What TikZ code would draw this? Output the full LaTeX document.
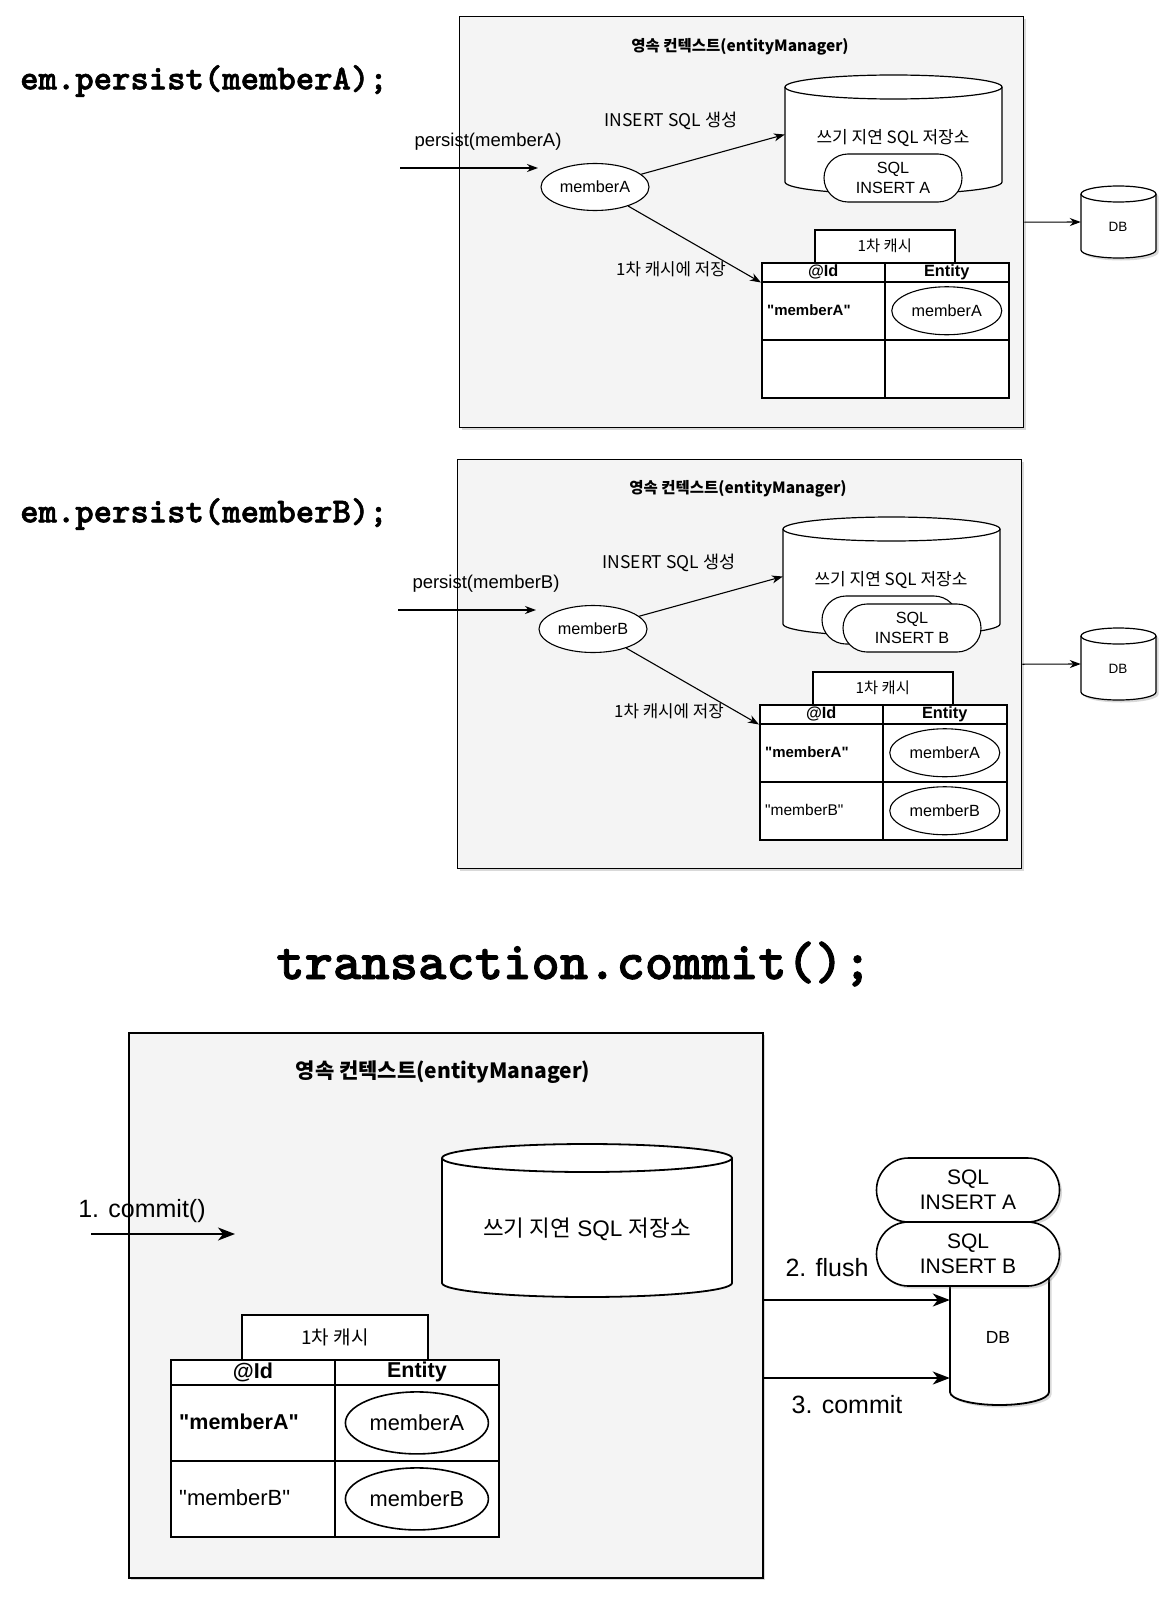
\documentclass[tikz,border=0pt]{standalone}
\usepackage{fontspec}
\setmainfont{Liberation Sans}
\newfontfamily\krfont{Noto Sans CJK KR}
\newfontfamily\codefont{lmmonolt10-bold.otf}[FakeBold=1.6]
\usetikzlibrary{arrows.meta,shapes.misc,shapes.geometric,shadows,fit}

\definecolor{boxgray}{HTML}{F4F4F4}
\newcommand\fsz[2]{\fontsize{#1pt}{#2pt}\selectfont}
\newcommand\qq[1]{\textquotedbl#1\textquotedbl}

% cylinder: [body options]{name}{left}{right}{top centre y}{bottom centre y}{end radius}
\newcommand\drum[7][]{%
  \path[draw, fill=white, drumline, #1] (#3,-#5) -- (#3,-#6)
    arc[start angle=180, end angle=360, x radius={(#4-#3)/2}, y radius=#7]
    -- (#4,-#5)
    arc[start angle=0, end angle=180, x radius={(#4-#3)/2}, y radius=#7] -- cycle;
  \draw[drumline] (#3,-#5)
    arc[start angle=180, end angle=360, x radius={(#4-#3)/2}, y radius=#7];
  \node[fit={(#3,-#5+#7) (#4,-#6-#7)}, inner sep=0pt] (#2) {};
}

\tikzset{
  drumline/.style={line width=1.2pt},
  shade/.style={drop shadow={shadow xshift=2.5pt, shadow yshift=-2.5pt, opacity=0.3}},
  ctxbox/.style={draw, line width=1.4pt, fill=boxgray, shade, anchor=north west, inner sep=0pt},
  obj/.style={ellipse, draw, line width=1.1pt, fill=white, inner sep=0pt},
  pill/.style={rounded rectangle, draw, line width=1.1pt, fill=white, align=center, inner sep=0pt},
  cell/.style={draw, line width=1.5pt, fill=white, anchor=north west, inner sep=0pt},
  flow/.style={-{Stealth[length=11pt, width=8pt, inset=3.5pt]}, line width=1.1pt},
  bigflow/.style={-{Stealth[length=17pt, width=13pt, inset=5pt]}, line width=1.6pt},
  code/.style={font=\codefont\fsz{35}{38}, inner sep=0pt, anchor=west},
  lbl/.style={font=\fsz{18.5}{22}},
  krlbl/.style={font=\krfont\fsz{17}{20}},
  ttl/.style={font=\krfont\bfseries\fsz{15.5}{18}},
  small/.style={font=\fsz{16.2}{19.5}},
  hdr/.style={font=\bfseries\fsz{16.3}{19}},
  key/.style={anchor=west, inner sep=0pt},
}

\begin{document}
\begin{tikzpicture}[x=1pt, y=1pt]
\useasboundingbox (0,0) rectangle (1168,-1616);

% ---------------- persist(memberA) ----------------
\node[code] (code1) at (20,-81) {em.persist(memberA);};

\node[ctxbox, minimum width=564pt, minimum height=411pt] (ctx1) at (459,-16) {};
\node[ttl] (ttl1) at (740,-47) {영속 컨텍스트(entityManager)};

\drum{wb1}{785}{1002}{87}{182}{12}
\node[krlbl] (wbl1) at (893,-138) {쓰기 지연 SQL 저장소};
\node[pill, minimum width=138pt, minimum height=48pt, small] (sqa1) at (893,-178) {SQL\\INSERT A};

\node[obj, minimum width=108pt, minimum height=47pt, small] (ma1) at (595,-187) {memberA};
\node[lbl] (pl1) at (488,-142) {persist(memberA)};
\coordinate (pa0) at (400,-168);
\coordinate (pa1) at (538,-168);
\draw[flow] (pa0) -- (pa1);

\node[krlbl, font=\krfont\fsz{17.5}{20}] (gen1) at (671,-121) {INSERT SQL 생성};
\draw[flow] (ma1) -- (wb1.west);

\node[cell, minimum width=140pt, minimum height=33pt] (tab1) at (814,-229) {};
\node[krlbl, font=\krfont\fsz{15.3}{18}] at (tab1.center) {1차 캐시};
\node[cell, minimum width=123pt, minimum height=19pt] (h1id) at (761,-262) {};
\node[cell, minimum width=124pt, minimum height=19pt] (h1en) at (884,-262) {};
\node[cell, minimum width=123pt, minimum height=58pt] (r1a) at (761,-281) {};
\node[cell, minimum width=124pt, minimum height=58pt] (r1b) at (884,-281) {};
\node[cell, minimum width=123pt, minimum height=58pt] (r2a) at (761,-339) {};
\node[cell, minimum width=124pt, minimum height=58pt] (r2b) at (884,-339) {};
\node[hdr] at (h1id.center) {@Id};
\node[hdr] at (h1en.center) {Entity};
\node[key, font=\bfseries\fsz{15}{18}] at (767,-310) {\qq{memberA}};
\node[obj, minimum width=110pt, minimum height=48pt, small] (ea1) at (r1b.center) {memberA};

\node[krlbl, font=\krfont\fsz{16.8}{20}] (sv1) at (671,-269) {1차 캐시에 저장};
\draw[flow] (ma1) -- (h1id.south west);

\drum[shade]{db1}{1081}{1156}{194}{250}{8}
\node[font=\fsz{13.5}{16}] at (1118,-227) {DB};
\draw[flow] (ctx1.east) -- (db1.west);

% ---------------- persist(memberB) ----------------
\node[code] (code2) at (20,-514) {em.persist(memberB);};

\begin{scope}[shift={(-2,-442)}]
\node[ctxbox, minimum width=564pt, minimum height=409pt] (ctx2) at (459,-17) {};
\node[ttl] (ttl2) at (740,-47) {영속 컨텍스트(entityManager)};

\drum{wb2}{785}{1002}{87}{182}{12}
\node[krlbl] (wbl2) at (893,-138) {쓰기 지연 SQL 저장소};
\node[pill, minimum width=136pt, minimum height=48pt] (sqa2) at (892,-178) {};
\node[pill, minimum width=138pt, minimum height=48pt, small] (sqb2) at (914,-186) {SQL\\INSERT B};

\node[obj, minimum width=108pt, minimum height=47pt, small] (mb2) at (595,-187) {memberB};
\node[lbl] (pl2) at (488,-142) {persist(memberB)};
\coordinate (pb0) at (400,-168);
\coordinate (pb1) at (538,-168);
\draw[flow] (pb0) -- (pb1);

\node[krlbl, font=\krfont\fsz{17.5}{20}] (gen2) at (671,-121) {INSERT SQL 생성};
\draw[flow] (mb2) -- (wb2.west);

\node[cell, minimum width=140pt, minimum height=33pt] (tab2) at (814,-229) {};
\node[krlbl, font=\krfont\fsz{15.3}{18}] at (tab2.center) {1차 캐시};
\node[cell, minimum width=123pt, minimum height=19pt] (h2id) at (761,-262) {};
\node[cell, minimum width=124pt, minimum height=19pt] (h2en) at (884,-262) {};
\node[cell, minimum width=123pt, minimum height=58pt] (s1a) at (761,-281) {};
\node[cell, minimum width=124pt, minimum height=58pt] (s1b) at (884,-281) {};
\node[cell, minimum width=123pt, minimum height=58pt] (s2a) at (761,-339) {};
\node[cell, minimum width=124pt, minimum height=58pt] (s2b) at (884,-339) {};
\node[hdr] at (h2id.center) {@Id};
\node[hdr] at (h2en.center) {Entity};
\node[key, font=\bfseries\fsz{15}{18}] at (767,-310) {\qq{memberA}};
\node[key, font=\fsz{15.5}{18}] at (767,-368) {\qq{memberB}};
\node[obj, minimum width=110pt, minimum height=48pt, small] (ea2) at (s1b.center) {memberA};
\node[obj, minimum width=110pt, minimum height=48pt, small] (eb2) at (s2b.center) {memberB};

\node[krlbl, font=\krfont\fsz{16.8}{20}] (sv2) at (671,-269) {1차 캐시에 저장};
\draw[flow] (mb2) -- (h2id.south west);

\drum[shade]{db2}{1083}{1158}{194}{250}{8}
\node[font=\fsz{13.5}{16}] at (1120,-227) {DB};
\draw[flow] (ctx2.east) -- (db2.west);
\end{scope}

% ---------------- transaction.commit() ----------------
\node[code, font=\codefont\fsz{54}{58}, anchor=center] (code3) at (574,-964) {transaction.commit();};

\begin{scope}[drumline/.style={line width=1.8pt}]
\node[ctxbox, line width=1.8pt, minimum width=634pt, minimum height=545pt] (ctx3) at (128,-1032) {};
\node[font=\krfont\bfseries\fsz{21}{25}] (ttl3) at (443,-1072) {영속 컨텍스트(entityManager)};

\drum{wb3}{442}{732}{1158}{1283}{14}
\node[font=\fsz{22.5}{26}] (wbl3) at (587,-1229) {{\krfont 쓰기 지연} SQL {\krfont 저장소}};

\node[font=\fsz{25}{29}] (cl3) at (142,-1211) {1. commit()};
\coordinate (cm0) at (91,-1234);
\coordinate (cm1) at (235,-1234);
\draw[bigflow] (cm0) -- (cm1);

\node[cell, line width=1.8pt, minimum width=186pt, minimum height=45pt] (tab3) at (241,-1314) {};
\node[font=\krfont\fsz{19}{22}] at (tab3.center) {1차 캐시};
\node[cell, line width=1.8pt, minimum width=164pt, minimum height=25pt] (h3id) at (170,-1359) {};
\node[cell, line width=1.8pt, minimum width=164pt, minimum height=25pt] (h3en) at (334,-1359) {};
\node[cell, line width=1.8pt, minimum width=164pt, minimum height=76pt] (u1a) at (170,-1384) {};
\node[cell, line width=1.8pt, minimum width=164pt, minimum height=76pt] (u1b) at (334,-1384) {};
\node[cell, line width=1.8pt, minimum width=164pt, minimum height=76pt] (u2a) at (170,-1460) {};
\node[cell, line width=1.8pt, minimum width=164pt, minimum height=76pt] (u2b) at (334,-1460) {};
\node[font=\bfseries\fsz{21.5}{25}] at (h3id.center) {@Id};
\node[font=\bfseries\fsz{21.5}{25}] at (h3en.center) {Entity};
\node[key, font=\bfseries\fsz{21.5}{25}] at (179,-1422) {\qq{memberA}};
\node[key, font=\fsz{22}{25}] at (179,-1498) {\qq{memberB}};
\node[obj, line width=1.6pt, minimum width=143pt, minimum height=62pt, font=\fsz{21.8}{25}] (ea3) at (u1b.center) {memberA};
\node[obj, line width=1.6pt, minimum width=143pt, minimum height=62pt, font=\fsz{21.8}{25}] (eb3) at (u2b.center) {memberB};

\drum[shade]{db3}{950}{1049}{1265}{1392}{13}
\node[font=\fsz{17.5}{20}] at (998,-1337) {DB};
\node[pill, line width=1.6pt, shade, minimum width=183pt, minimum height=64pt, font=\fsz{21}{25}] (sqa3) at (968,-1190) {SQL\\INSERT A};
\node[pill, line width=1.6pt, shade, minimum width=183pt, minimum height=64pt, font=\fsz{21}{25}] (sqb3) at (968,-1254) {SQL\\INSERT B};

\coordinate (fl0) at (762,-1300);
\coordinate (co0) at (762,-1378);
\draw[bigflow] (fl0) -- (fl0 -| db3.west);
\draw[bigflow] (co0) -- (co0 -| db3.west);
\node[font=\fsz{25}{29}] (fll) at (827,-1268) {2. flush};
\node[font=\fsz{25}{29}] (col) at (847,-1405) {3. commit};
\end{scope}
\end{tikzpicture}
\end{document}
